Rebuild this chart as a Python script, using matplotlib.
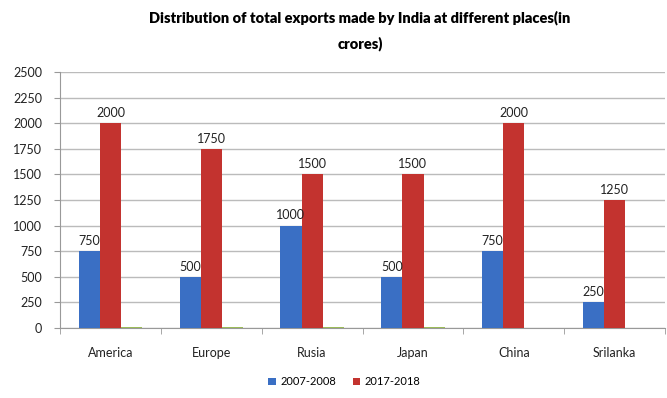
import matplotlib.pyplot as plt
import numpy as np

plt.rcParams['font.family'] = ['Lato', 'DejaVu Sans']

places = ["America", "Europe", "Rusia", "Japan", "China", "Srilanka"]
exports_2007 = [750, 500, 1000, 500, 750, 250]
exports_2017 = [2000, 1750, 1500, 1500, 2000, 1250]
# faint third series sitting at the baseline in the original
extra = [12, 12, 12, 12, 0, 0]
yticks = list(range(0, 2501, 250))

fig = plt.figure(figsize=(6.67, 3.98), dpi=100)
ax = fig.add_axes([0.09, 0.176, 0.907, 0.643])

x = np.arange(len(places))
w = 0.21
b1 = ax.bar(x - w, exports_2007, w, color='#3A6FC4', label='2007-2008', zorder=3)
b2 = ax.bar(x, exports_2017, w, color='#C3332F', label='2017-2018', zorder=3)
ax.bar(x + w, extra, w, color='#9BBB59', zorder=3)

for bars in (b1, b2):
    for r in bars:
        ax.text(r.get_x() + r.get_width() / 2, r.get_height() + 40,
                f"{int(r.get_height())}", ha='center', va='bottom',
                fontsize=9, color='#222222')

ax.set_xlim(-0.5, len(places) - 0.5)
ax.set_ylim(0, 2500)
ax.set_yticks(yticks)
ax.set_yticklabels([str(t) for t in yticks], fontsize=9, color='#222222')
ax.set_xticks(x)
ax.set_xticklabels(places, fontsize=9, color='#222222')
ax.tick_params(axis='x', length=0, pad=14)
ax.set_xticks(np.arange(-0.5, len(places)), minor=True)
ax.tick_params(axis='x', which='minor', length=4, color='#999999')
ax.tick_params(axis='y', length=4, color='#999999', pad=9)
ax.grid(axis='y', color='#BBBBBB', linewidth=1, zorder=0)
for s in ['top', 'right']:
    ax.spines[s].set_visible(False)
ax.spines['left'].set_color('#999999')
ax.spines['bottom'].set_color('#999999')

fig.suptitle("Distribution of total exports made by India at different places(in\ncrores)",
             x=0.54, y=0.975, fontsize=10.5, fontweight='heavy', linespacing=2.0)

ax.legend(handles=[b1, b2], loc='upper center', bbox_to_anchor=(0.47, -0.15),
          ncol=2, frameon=False, fontsize=8, handlelength=0.7, handleheight=0.7,
          columnspacing=1.5, handletextpad=0.4)

fig.savefig("out.png", dpi=100)
